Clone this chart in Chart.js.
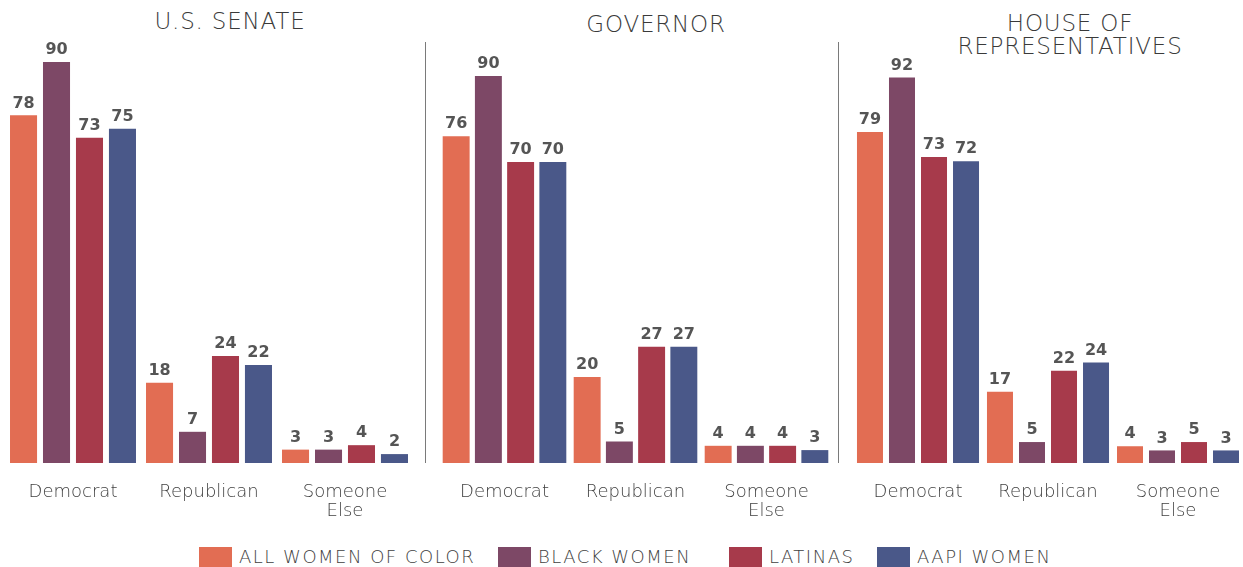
<!DOCTYPE html>
<html>
<head>
<meta charset="utf-8">
<script src="https://cdn.jsdelivr.net/npm/chart.js@4/dist/chart.umd.min.js"></script>
<style>
  body { margin: 0; background: #fff; width: 1243px; height: 567px; position: relative; overflow: hidden; font-family: "DejaVu Sans", sans-serif; }
  .panel { position: absolute; top: 0; height: 545px; }
  .title { position: absolute; transform: translateX(-50%); text-align: center; font-size: 23px; font-weight: 200; color: #3a3a3a; line-height: 23px; white-space: nowrap; letter-spacing: 0.8px; }
  .divider { position: absolute; top: 42px; width: 1px; height: 421px; background: #7a7a7a; }
  .legend { position: absolute; left: 0; top: 547px; width: 1243px; height: 20px; font-size: 18px; font-weight: 200; color: #3f3f3f; letter-spacing: 1.5px; }
  .legend span.box { display: inline-block; width: 33px; height: 20px; margin-right: 7px; }
  .legend .item { position: absolute; top: 0; display: flex; align-items: center; line-height: 20px; white-space: nowrap; }
</style>
</head>
<body>
<div class="title" style="left:230px; top:10px;">U.S. SENATE</div>
<div class="title" style="left:656px; top:13px;">GOVERNOR</div>
<div class="title" style="left:1070px; top:12px;">HOUSE OF<br>REPRESENTATIVES</div>

<div class="panel" style="left:0; width:430px;"><canvas id="senate"></canvas></div>
<div class="panel" style="left:430px; width:410px;"><canvas id="governor"></canvas></div>
<div class="panel" style="left:843px; width:400px;"><canvas id="house"></canvas></div>

<div class="divider" style="left:425px;"></div>
<div class="divider" style="left:838px;"></div>

<div class="legend" id="legend"></div>

<script>
// categories and series
var categories = ['Democrat', 'Republican', ['Someone', 'Else']];
var seriesNames = ['ALL WOMEN OF COLOR', 'BLACK WOMEN', 'LATINAS', 'AAPI WOMEN'];
var seriesColors = ['#E26D53', '#7D4866', '#A73A4B', '#4A5889'];

// values per race, one array per series: [Democrat, Republican, Someone Else]
var senateAll    = [78, 18, 3];
var senateBlack  = [90, 7, 3];
var senateLatina = [73, 24, 4];
var senateAapi   = [75, 22, 2];

var govAll    = [76, 20, 4];
var govBlack  = [90, 5, 4];
var govLatina = [70, 27, 4];
var govAapi   = [70, 27, 3];

var houseAll    = [79, 17, 4];
var houseBlack  = [92, 5, 3];
var houseLatina = [73, 22, 5];
var houseAapi   = [72, 24, 3];

var valueLabels = {
    id: 'valueLabels',
    afterDatasetsDraw: function (chart) {
        var ctx = chart.ctx;
        ctx.save();
        ctx.font = 'bold 16px "DejaVu Sans", sans-serif';
        ctx.fillStyle = '#555';
        ctx.textAlign = 'center';
        ctx.textBaseline = 'bottom';
        chart.data.datasets.forEach(function (ds, i) {
            chart.getDatasetMeta(i).data.forEach(function (bar, j) {
                ctx.fillText(ds.data[j], bar.x, bar.y - 4);
            });
        });
        ctx.restore();
    }
};

function makeChart(id, series, yMax, pad, catPct, barPct) {
    var datasets = series.map(function (vals, i) {
        return {
            label: seriesNames[i],
            data: vals,
            backgroundColor: seriesColors[i],
            borderWidth: 0,
            categoryPercentage: catPct,
            barPercentage: barPct
        };
    });
    return new Chart(document.getElementById(id), {
        type: 'bar',
        data: { labels: categories, datasets: datasets },
        options: {
            responsive: true,
            maintainAspectRatio: false,
            animation: false,
            layout: { padding: { left: pad[0], right: pad[1], top: 20, bottom: 7 } },
            plugins: { legend: { display: false }, tooltip: { enabled: false } },
            scales: {
                y: { display: false, min: 0, max: yMax },
                x: {
                    grid: { display: false },
                    border: { display: false },
                    afterFit: function (s) { s.height = 75; },
                    ticks: {
                        padding: 12,
                        color: '#3f3f3f',
                        font: { family: '"DejaVu Sans", sans-serif', size: 18, weight: 200, lineHeight: 1.05 }
                    }
                }
            }
        },
        plugins: [valueLabels]
    });
}

makeChart('senate', [senateAll, senateBlack, senateLatina, senateAapi], 99.4, [5, 17], 0.97, 0.82);
makeChart('governor', [govAll, govBlack, govLatina, govAapi], 103, [9, 8], 0.984, 0.836);
makeChart('house', [houseAll, houseBlack, houseLatina, houseAapi], 105.7, [10, 0], 0.985, 0.8125);

// legend entries placed where the original has them
var legendLeft = [199, 498, 729, 877];
var legend = document.getElementById('legend');
seriesNames.forEach(function (name, i) {
    var item = document.createElement('div');
    item.className = 'item';
    item.style.left = legendLeft[i] + 'px';
    item.innerHTML = '<span class="box" style="background:' + seriesColors[i] + '"></span>' + name;
    legend.appendChild(item);
});
</script>
</body>
</html>
